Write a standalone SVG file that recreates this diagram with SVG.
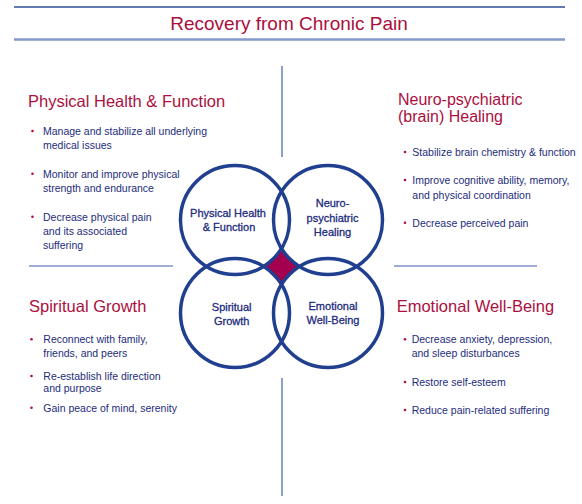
<svg xmlns="http://www.w3.org/2000/svg" width="582" height="504" viewBox="0 0 582 504">
<style>
.title{font-family:"Liberation Sans",Arial,sans-serif;font-size:19px;fill:#ab0f3e}
.head{font-family:"Liberation Sans",Arial,sans-serif;font-size:16.5px;fill:#ab0f3e}
.head2{font-family:"Liberation Sans",Arial,sans-serif;font-size:16px;fill:#ab0f3e}
.body{font-family:"Liberation Sans",Arial,sans-serif;font-size:10.5px;fill:#1d2c7c}
.clab{font-family:"Liberation Sans",Arial,sans-serif;font-size:11px;fill:#1d2c7c;stroke:#1d2c7c;stroke-width:0.3;text-anchor:middle}
.dot{fill:#b0103f}
.circ{fill:none;stroke:#213f8f;stroke-width:3.5}
.rule{stroke:#3c5db0;stroke-width:1.2;fill:none}
</style>
<rect width="582" height="504" fill="#ffffff"/>
<g id="header">
<line x1="14" y1="7" x2="565" y2="7" stroke="#2f4f97" stroke-width="1.5"/>
<line x1="14" y1="39.5" x2="565" y2="39.5" stroke="#8599cc" stroke-width="2.5"/>
<text class="title" x="289" y="30" text-anchor="middle">Recovery from Chronic Pain</text>
</g>
<g id="connectors">
<line class="rule" x1="282" y1="66" x2="282" y2="157"/>
<line class="rule" x1="282" y1="378" x2="282" y2="496"/>
<line class="rule" x1="29" y1="266" x2="173" y2="266"/>
<line class="rule" x1="394" y1="266" x2="537" y2="266"/>
</g>
<g id="venn">
<path d="M281.5,248.4 A54.5,54.5 0 0 0 299.6,266.5 A54.5,54.5 0 0 0 281.5,284.6 A54.5,54.5 0 0 0 263.4,266.5 A54.5,54.5 0 0 0 281.5,248.4 Z" fill="#a3004f"/>
<g id="circle-physical">
<circle class="circ" cx="235" cy="220" r="54.5"/>
<text class="clab" x="228" y="216.7">Physical Health</text>
<text class="clab" x="229" y="231">&amp; Function</text>
</g>
<g id="circle-neuro">
<circle class="circ" cx="328" cy="220" r="54.5"/>
<text class="clab" x="332.5" y="207.3">Neuro-</text>
<text class="clab" x="332.5" y="221.7">psychiatric</text>
<text class="clab" x="332.5" y="236">Healing</text>
</g>
<g id="circle-spiritual">
<circle class="circ" cx="235" cy="313" r="54.5"/>
<text class="clab" x="231.7" y="310.7">Spiritual</text>
<text class="clab" x="231.7" y="325">Growth</text>
</g>
<g id="circle-emotional">
<circle class="circ" cx="328" cy="313" r="54.5"/>
<text class="clab" x="333" y="310">Emotional</text>
<text class="clab" x="333" y="324.3">Well-Being</text>
</g>
</g>
<g id="physical">
<text class="head" x="28" y="106.5">Physical Health &amp; Function</text>
<circle class="dot" cx="32.5" cy="131" r="1.3"/>
<text class="body" x="43" y="135">Manage and stabilize all underlying</text>
<text class="body" x="43" y="149">medical issues</text>
<circle class="dot" cx="32.5" cy="173.7" r="1.3"/>
<text class="body" x="43" y="177.7">Monitor and improve physical</text>
<text class="body" x="43" y="191.7">strength and endurance</text>
<circle class="dot" cx="32.5" cy="216.7" r="1.3"/>
<text class="body" x="43" y="220.7">Decrease physical pain</text>
<text class="body" x="43" y="235">and its associated</text>
<text class="body" x="43" y="249">suffering</text>
</g>
<g id="neuro">
<text class="head2" x="398" y="104.5">Neuro-psychiatric</text>
<text class="head2" x="398" y="121.5">(brain) Healing</text>
<circle class="dot" cx="405" cy="152" r="1.3"/>
<text class="body" x="412.3" y="156">Stabilize brain chemistry &amp; function</text>
<circle class="dot" cx="405" cy="180" r="1.3"/>
<text class="body" x="412.3" y="184">Improve cognitive ability, memory,</text>
<text class="body" x="412.3" y="199">and physical coordination</text>
<circle class="dot" cx="405" cy="222.7" r="1.3"/>
<text class="body" x="412.3" y="226.7">Decrease perceived pain</text>
</g>
<g id="spiritual">
<text class="head" x="29" y="312.3">Spiritual Growth</text>
<circle class="dot" cx="31.5" cy="339.3" r="1.3"/>
<text class="body" x="43.3" y="343.3">Reconnect with family,</text>
<text class="body" x="43.3" y="356.7">friends, and peers</text>
<circle class="dot" cx="31.5" cy="376" r="1.3"/>
<text class="body" x="43.3" y="380">Re-establish life direction</text>
<text class="body" x="43.3" y="391.7">and purpose</text>
<circle class="dot" cx="31.5" cy="407.7" r="1.3"/>
<text class="body" x="43.3" y="411.7">Gain peace of mind, serenity</text>
</g>
<g id="emotional">
<text class="head" x="396.7" y="311.7">Emotional Well-Being</text>
<circle class="dot" cx="405" cy="339.3" r="1.3"/>
<text class="body" x="411.7" y="343.3">Decrease anxiety, depression,</text>
<text class="body" x="411.7" y="356.7">and sleep disturbances</text>
<circle class="dot" cx="405" cy="382" r="1.3"/>
<text class="body" x="411.7" y="386">Restore self-esteem</text>
<circle class="dot" cx="405" cy="410" r="1.3"/>
<text class="body" x="411.7" y="414">Reduce pain-related suffering</text>
</g>
</svg>
